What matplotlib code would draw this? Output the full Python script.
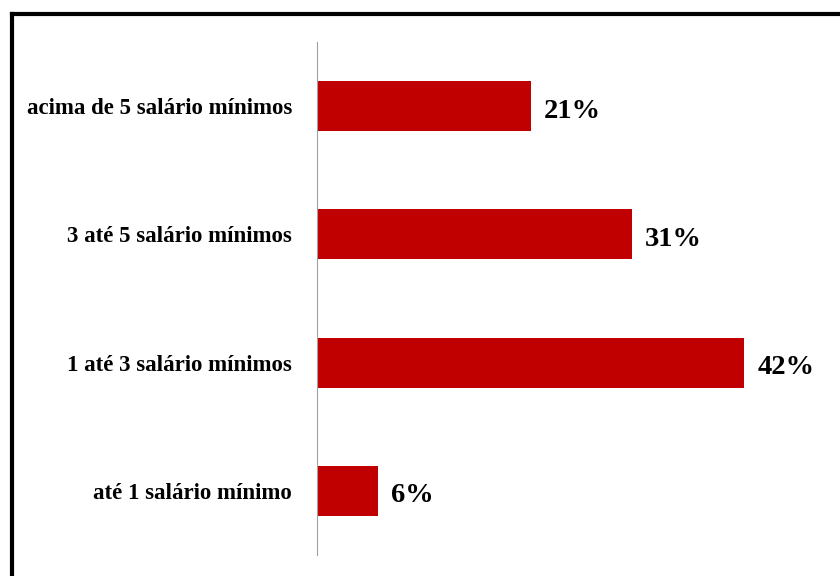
import matplotlib
matplotlib.use("Agg")
import matplotlib.pyplot as plt
from matplotlib.lines import Line2D

categories = ["até 1 salário mínimo", "1 até 3 salário mínimos",
              "3 até 5 salário mínimos", "acima de 5 salário mínimos"]
values = [6, 42, 31, 21]
labels = ["6%", "42%", "31%", "21%"]

W, H = 840, 576
fig = plt.figure(figsize=(W / 100, H / 100), dpi=100)

# frame (cut off at right and bottom)
fig.add_artist(Line2D([12 / W, 12 / W], [1 - 14 / H, -0.1], color="black",
                      lw=3.0, transform=fig.transFigure, solid_capstyle="projecting"))
fig.add_artist(Line2D([12 / W, 1.1], [1 - 14 / H, 1 - 14 / H], color="black",
                      lw=3.0, transform=fig.transFigure, solid_capstyle="projecting"))

px_per = 10.17
xmax = 50
left = 317 / W
width = px_per * xmax / W
bottom = (H - 555) / H
top = (H - 42) / H
ax = fig.add_axes([left, bottom, width, top - bottom])

y = list(range(len(categories)))
ax.barh(y, values, height=0.39, color="#C00000")
ax.set_xlim(0, xmax)
ax.set_ylim(-0.5, len(categories) - 0.5)

for yi, v, lab in zip(y, values, labels):
    ax.annotate(lab, (v, yi), xytext=(13, -5), textcoords="offset pixels",
                va="center", ha="left", fontsize=20.5, fontweight="bold",
                family="Liberation Serif")

ax.set_yticks(y)
ax.set_yticklabels(categories, fontsize=16.5, fontweight="bold", family="Liberation Serif")
ax.tick_params(axis="y", length=0, pad=18)
ax.set_xticks([])
for s in ["top", "right", "bottom"]:
    ax.spines[s].set_visible(False)
ax.spines["left"].set_color("#a0a0a0")
ax.spines["left"].set_linewidth(0.8)
ax.patch.set_alpha(0)

fig.savefig("out.png", dpi=100)
